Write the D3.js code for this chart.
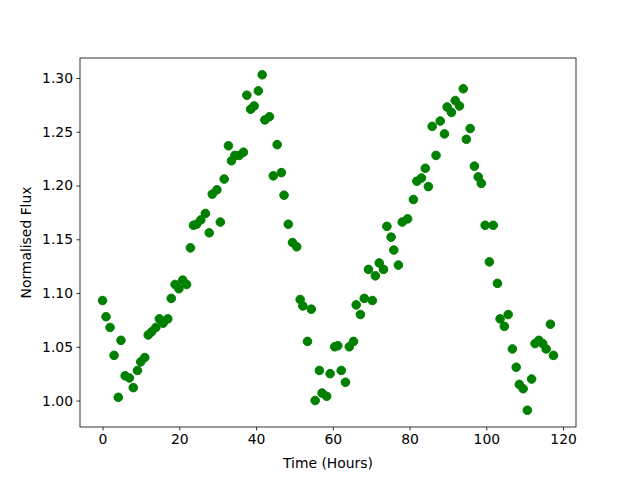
<!DOCTYPE html>
<html>
<head>
<meta charset="utf-8">
<script src="https://cdn.jsdelivr.net/npm/d3@7"></script>
<style>
  body { margin: 0; background: #fff; }
  text { font-family: "DejaVu Sans", sans-serif; }
</style>
</head>
<body>
<svg id="chart" width="640" height="480"></svg>
<script>
// time of each observation (hours)
const hours = [
  0.0, 0.9, 1.95, 3.0, 4.1, 4.8, 5.9, 7.0, 8.0, 9.1,
  9.95, 11.0, 11.9, 12.8, 13.9, 14.8, 15.8, 17.0, 17.9, 18.9,
  19.9, 20.9, 21.9, 22.9, 23.7, 24.5, 25.6, 26.8, 27.8, 28.6,
  29.8, 30.7, 31.7, 32.8, 33.6, 34.5, 35.6, 36.7, 37.6, 38.6,
  39.5, 40.6, 41.6, 42.3, 43.5, 44.5, 45.5, 46.6, 47.3, 48.4,
  49.5, 50.6, 51.5, 52.2, 53.4, 54.4, 55.4, 56.5, 57.2, 58.4,
  59.3, 60.5, 61.3, 62.2, 63.3, 64.3, 65.4, 66.1, 67.2, 68.2,
  69.3, 70.3, 71.1, 72.1, 73.2, 74.1, 75.2, 75.9, 77.1, 78.1,
  79.5, 81.0, 81.9, 83.1, 84.1, 84.9, 85.9, 86.9, 88.0, 89.1,
  89.8, 90.9, 91.9, 93.0, 94.0, 94.8, 95.8, 96.9, 97.9, 98.7,
  99.7, 100.8, 101.8, 102.9, 103.6, 104.7, 105.7, 106.8, 107.8, 108.6,
  109.6, 110.7, 111.8, 112.7, 113.7, 114.7, 115.6, 116.7, 117.5
];

// normalised flux
const flux = [
  1.093, 1.078, 1.068, 1.042, 1.003, 1.056, 1.023, 1.021, 1.012, 1.028,
  1.036, 1.040, 1.061, 1.064, 1.068, 1.076, 1.072, 1.076, 1.095, 1.108,
  1.104, 1.112, 1.108, 1.142, 1.163, 1.164, 1.168, 1.174, 1.156, 1.192,
  1.196, 1.166, 1.206, 1.237, 1.223, 1.228, 1.228, 1.231, 1.284, 1.271,
  1.274, 1.288, 1.303, 1.261, 1.264, 1.209, 1.238, 1.212, 1.191, 1.164,
  1.147, 1.143, 1.094, 1.088, 1.055, 1.085, 1.000, 1.028, 1.007, 1.004,
  1.025, 1.050, 1.051, 1.028, 1.017, 1.050, 1.055, 1.089, 1.080, 1.095,
  1.122, 1.093, 1.116, 1.128, 1.122, 1.162, 1.152, 1.140, 1.126, 1.166,
  1.169, 1.187, 1.204, 1.207, 1.216, 1.199, 1.255, 1.228, 1.260, 1.248,
  1.273, 1.268, 1.279, 1.274, 1.290, 1.243, 1.253, 1.218, 1.208, 1.202,
  1.163, 1.129, 1.163, 1.109, 1.076, 1.069, 1.080, 1.048, 1.031, 1.015,
  1.011, 0.991, 1.020, 1.053, 1.056, 1.053, 1.048, 1.071, 1.042
];

const xTicks = [0, 20, 40, 60, 80, 100, 120];
const yTicks = [1.00, 1.05, 1.10, 1.15, 1.20, 1.25, 1.30];

const points = hours.map((h, i) => ({ x: h, y: flux[i] }));

const svg = d3.select("#chart");
const plotLeft = 80, plotRight = 576, plotTop = 58, plotBottom = 427;

// matplotlib style 5% padding around the data
function padded(values) {
  const [lo, hi] = d3.extent(values);
  const pad = (hi - lo) * 0.05;
  return [lo - pad, hi + pad];
}

const x = d3.scaleLinear().domain(padded(hours)).range([plotLeft, plotRight]);
const y = d3.scaleLinear().domain(padded(flux)).range([plotBottom, plotTop]);

svg.append("rect")
  .attr("width", 640).attr("height", 480).attr("fill", "#fff");

svg.selectAll("circle.pt")
  .data(points)
  .join("circle")
  .attr("class", "pt")
  .attr("cx", d => x(d.x))
  .attr("cy", d => y(d.y))
  .attr("r", 4.3)
  .attr("fill", "#008000")
  .attr("stroke", "#008000")
  .attr("stroke-width", 1);

const xAxis = svg.append("g")
  .attr("transform", `translate(0,${plotBottom})`)
  .call(d3.axisBottom(x).tickValues(xTicks).tickSize(3.5).tickPadding(3.5).tickFormat(d3.format("d")));

const yAxis = svg.append("g")
  .attr("transform", `translate(${plotLeft},0)`)
  .call(d3.axisLeft(y).tickValues(yTicks).tickSize(3.5).tickPadding(3.5).tickFormat(d3.format(".2f")));

[xAxis, yAxis].forEach(g => {
  g.select(".domain").remove();
  g.selectAll(".tick line").attr("stroke", "#000").attr("stroke-width", 0.8);
  g.selectAll(".tick text")
    .attr("fill", "#000")
    .style("font-size", "13.9px")
    .style("font-family", "DejaVu Sans, sans-serif");
});

// axes frame
svg.append("rect")
  .attr("x", plotLeft).attr("y", plotTop)
  .attr("width", plotRight - plotLeft).attr("height", plotBottom - plotTop)
  .attr("fill", "none")
  .attr("stroke", "#000")
  .attr("stroke-width", 0.8);

svg.append("text")
  .attr("x", (plotLeft + plotRight) / 2)
  .attr("y", 468)
  .attr("text-anchor", "middle")
  .style("font-size", "13.9px")
  .text("Time (Hours)");

svg.append("text")
  .attr("transform", `translate(31,${(plotTop + plotBottom) / 2}) rotate(-90)`)
  .attr("text-anchor", "middle")
  .style("font-size", "13.9px")
  .text("Normalised Flux");
</script>
</body>
</html>
